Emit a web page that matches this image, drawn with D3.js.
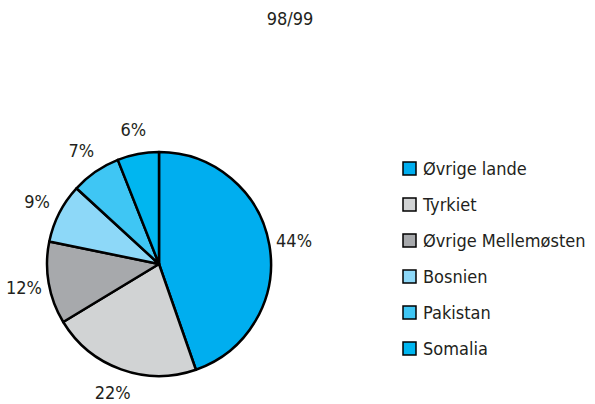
<!DOCTYPE html>
<html>
<head>
<meta charset="utf-8">
<script src="https://cdn.jsdelivr.net/npm/d3@7"></script>
<style>
  body { margin: 0; background: #fff; }
  text { font-family: "Liberation Sans Narrow", "DejaVu Sans Condensed", "Roboto", sans-serif; fill: #231f20; }
</style>
</head>
<body>
<svg width="595" height="404"></svg>
<script>
var categories = ["Øvrige lande", "Tyrkiet", "Øvrige Mellemøsten", "Bosnien", "Pakistan", "Somalia"],
    values = [44.7, 21.7, 11.9, 8.6, 7.2, 6.0],
    labels = ["44%", "22%", "12%", "9%", "7%", "6%"],
    colors = ["#00aeef", "#d1d3d4", "#a7a9ac", "#8dd8f8", "#3fc6f4", "#00b6f0"],
    title = "98/99";

var svg = d3.select("svg"),
    width = +svg.attr("width"),
    height = +svg.attr("height"),
    cx = 159, cy = 264, radius = 112;

var color = d3.scaleOrdinal().domain(categories).range(colors);

var data = categories.map(function(c, i) { return {name: c, value: values[i], label: labels[i]}; });

var pie = d3.pie().sort(null).value(function(d) { return d.value; });
var arc = d3.arc().innerRadius(0).outerRadius(radius);
var labelArc = d3.arc().innerRadius(radius + 25).outerRadius(radius + 25);

svg.append("text")
    .attr("x", 290)
    .attr("y", 25)
    .attr("text-anchor", "middle")
    .style("font-size", "18px")
    .text(title);

var g = svg.append("g").attr("transform", "translate(" + cx + "," + cy + ")");

g.selectAll("path")
  .data(pie(data))
  .enter().append("path")
    .attr("d", arc)
    .attr("fill", function(d) { return color(d.data.name); })
    .attr("stroke", "#000")
    .attr("stroke-width", 2.5)
    .attr("stroke-linejoin", "round");

g.selectAll(".lbl")
  .data(pie(data))
  .enter().append("text")
    .attr("class", "lbl")
    .attr("transform", function(d) { return "translate(" + labelArc.centroid(d) + ")"; })
    .attr("text-anchor", "middle")
    .attr("dy", "0.35em")
    .style("font-size", "18px")
    .text(function(d) { return d.data.label; });

// legend
var legend = svg.append("g").attr("transform", "translate(403,162)");
var row = legend.selectAll("g")
  .data(data)
  .enter().append("g")
    .attr("transform", function(d, i) { return "translate(0," + i * 36 + ")"; });

row.append("rect")
    .attr("width", 13)
    .attr("height", 13)
    .attr("fill", function(d) { return color(d.name); })
    .attr("stroke", "#000")
    .attr("stroke-width", 1.5);

row.append("text")
    .attr("x", 20)
    .attr("y", 7)
    .attr("dy", "0.35em")
    .style("font-size", "18px")
    .text(function(d) { return d.name; });
</script>
</body>
</html>
